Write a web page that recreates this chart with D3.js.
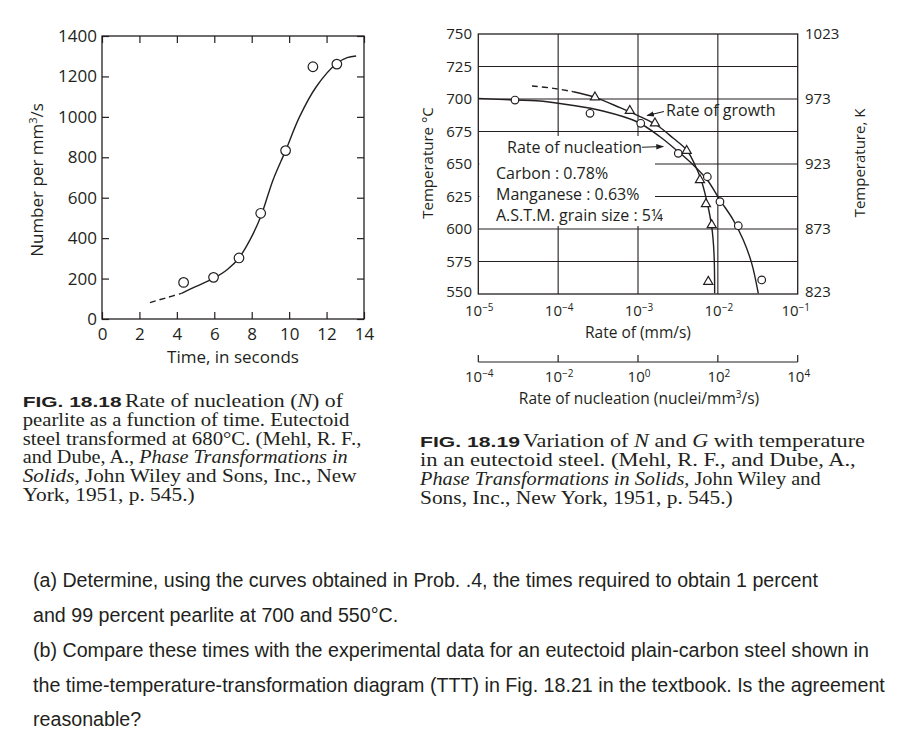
<!DOCTYPE html>
<html><head><meta charset="utf-8">
<script src="https://cdn.jsdelivr.net/npm/d3@7"></script>
<style>body{margin:0;background:#fff} svg{display:block}</style>
</head><body><svg id="c" width="920" height="747"></svg>
<script>
// ---------- Fig 18.18 data ----------
const nucTime  = [4.36, 5.96, 7.32, 8.48, 9.81, 11.27, 12.55];
const nucCount = [181, 206, 302, 523, 833, 1248, 1261];
const fitDashTime  = [2.56, 3.4, 4.25];
const fitDashCount = [81, 104, 127];
const fitTime  = [4.25, 5.0, 5.96, 6.7, 7.32, 7.9, 8.48, 9.14, 9.81, 10.56, 11.45, 12.55, 13.1, 13.58];
const fitCount = [127, 160, 201, 245, 302, 390, 506, 688, 833, 1001, 1149, 1265, 1293, 1301];
const timeTicks  = [0, 2, 4, 6, 8, 10, 12, 14];
const countTicks = [0, 200, 400, 600, 800, 1000, 1200, 1400];

// ---------- Fig 18.19 data ----------
const tempTicks   = [550, 575, 600, 625, 650, 675, 700, 725, 750];
const kelvinTicks = [823, 873, 923, 973, 1023];
const gridTemps   = [575, 600, 625, 650, 675, 700, 725];
const growthExps  = [-5, -4, -3, -2, -1];
const nucExps     = [-4, -2, 0, 2, 4];
// rate of growth (mm/s) — triangles
const growthPtRate = [2.89e-4, 7.9e-4, 1.63e-3, 4.07e-3, 5.97e-3, 7.10e-3, 8.38e-3, 7.59e-3];
const growthPtTemp = [701.3, 691, 681.3, 660.2, 637.7, 619.2, 603.1, 559.5];
const growthDashRate = [4.7e-5, 8.7e-5, 1.55e-4];
const growthDashTemp = [710, 708.2, 705.6];
const growthCurveRate = [1.55e-4, 2.89e-4, 5.96e-4, 1.06e-3, 1.71e-3, 2.77e-3, 4.07e-3, 5.18e-3, 6.28e-3, 7.38e-3, 8.38e-3, 8.95e-3, 9.12e-3];
const growthCurveTemp = [705.6, 701.3, 693.3, 686.4, 680, 669.8, 660.8, 649.2, 636.4, 619.8, 601.8, 581.3, 550.5];
// rate of nucleation (nuclei/mm^3/s) — circles
const nucPtRate = [8.3e-4, 0.0628, 1.17, 10.2, 54.5, 113, 325, 1256];
const nucPtTemp = [699.2, 689, 681.3, 658.2, 640.2, 621, 602.5, 560.8];
const nucCurveRate = [1e-4, 8.3e-4, 2.9e-3, 0.0198, 0.132, 0.944, 3.55, 10.2, 24.3, 54.5, 113, 244, 434, 705, 1030];
const nucCurveTemp = [700.5, 699.2, 698.7, 695.4, 690.8, 682.5, 671, 659.5, 649.2, 637.7, 622.3, 606.9, 591.5, 573.6, 550.5];

const INK = "#231f20";
const SANS = "'Open Sans', 'Noto Sans', sans-serif";
const SERIF = "'Liberation Serif', 'Times New Roman', serif";
const svg = d3.select("#c");

// ================= LEFT CHART =================
const L = svg.append("g");
const xL = d3.scaleLinear().domain([0, 14]).range([102, 364]);
const yL = d3.scaleLinear().domain([0, 1400]).range([319, 36]);

function styleAxis(g, size) {
  g.select(".domain").remove();
  g.selectAll("line").attr("stroke", INK).attr("stroke-width", 1.2);
  g.selectAll("text").attr("fill", INK).style("font-family", SANS).style("font-size", size + "px");
}
L.append("g").attr("transform", `translate(0,${yL(0)})`)
  .call(d3.axisBottom(xL).tickValues(timeTicks).tickFormat(d3.format("d")).tickSizeInner(-7).tickSizeOuter(0).tickPadding(9))
  .call(g => styleAxis(g, 17));
L.append("g").attr("transform", `translate(0,${yL(1400)})`)
  .call(d3.axisTop(xL).tickValues(timeTicks).tickFormat("").tickSizeInner(-7).tickSizeOuter(0))
  .call(g => styleAxis(g, 17));
L.append("g").attr("transform", `translate(${xL(0)},0)`)
  .call(d3.axisLeft(yL).tickValues(countTicks).tickFormat(d3.format("d")).tickSizeInner(-7).tickSizeOuter(0).tickPadding(5))
  .call(g => styleAxis(g, 17));
L.append("g").attr("transform", `translate(${xL(14)},0)`)
  .call(d3.axisRight(yL).tickValues(countTicks).tickFormat("").tickSizeInner(-7).tickSizeOuter(0))
  .call(g => styleAxis(g, 17));
L.append("rect").attr("x", xL(0)).attr("y", yL(1400))
  .attr("width", xL(14) - xL(0)).attr("height", yL(0) - yL(1400))
  .attr("fill", "none").attr("stroke", INK).attr("stroke-width", 1.3);

const lineL = d3.line().x(d => xL(d[0])).y(d => yL(d[1])).curve(d3.curveCatmullRom.alpha(0.5));
L.append("path").attr("d", lineL(fitDashTime.map((t, i) => [t, fitDashCount[i]])))
  .attr("fill", "none").attr("stroke", INK).attr("stroke-width", 1.4).attr("stroke-dasharray", "6,4");
L.append("path").attr("d", lineL(fitTime.map((t, i) => [t, fitCount[i]])))
  .attr("fill", "none").attr("stroke", INK).attr("stroke-width", 1.4);
L.selectAll("circle.pt").data(nucTime.map((t, i) => [t, nucCount[i]])).join("circle")
  .attr("cx", d => xL(d[0])).attr("cy", d => yL(d[1])).attr("r", 4.8)
  .attr("fill", "#fff").attr("stroke", INK).attr("stroke-width", 1.2);

L.append("text").attr("transform", "translate(43,180) rotate(-90)").attr("text-anchor", "middle")
  .style("font-family", SANS).style("font-size", "17px").attr("fill", INK)
  .call(t => { t.append("tspan").text("Number per mm"); t.append("tspan").attr("dy", -6).style("font-size", "11px").text("3"); t.append("tspan").attr("dy", 6).text("/s"); });
L.append("text").attr("x", 233).attr("y", 363).attr("text-anchor", "middle")
  .style("font-family", SANS).style("font-size", "17px").attr("fill", INK).text("Time, in seconds");

// ================= RIGHT CHART =================
const R = svg.append("g");
const yR = d3.scaleLinear().domain([550, 750]).range([294, 34]);
const xG = d3.scaleLog().domain([1e-5, 1e-1]).range([478.3, 797.7]);
const xN = d3.scaleLog().domain([1e-4, 1e4]).range([478.3, 797.7]);

R.selectAll("line.vg").data(growthExps.slice(1, 4)).join("line")
  .attr("x1", d => xG(Math.pow(10, d))).attr("x2", d => xG(Math.pow(10, d)))
  .attr("y1", yR(750)).attr("y2", yR(550)).attr("stroke", INK).attr("stroke-width", 1.1);
R.selectAll("line.hg").data(gridTemps).join("line")
  .attr("x1", xG(1e-5)).attr("x2", xG(1e-1)).attr("y1", d => yR(d)).attr("y2", d => yR(d))
  .attr("stroke", INK).attr("stroke-width", 1.1);
// white panel behind the legend text
R.append("rect").attr("x", xG(1e-5) + 1).attr("y", 136).attr("width", 655 - xG(1e-5) - 1).attr("height", 90).attr("fill", "#fff");
R.append("rect").attr("x", xG(1e-5)).attr("y", yR(750)).attr("width", xG(1e-1) - xG(1e-5)).attr("height", yR(550) - yR(750))
  .attr("fill", "none").attr("stroke", INK).attr("stroke-width", 1.3);

// tick labels (end labels nudged clear of the bottom log labels)
R.selectAll("text.tl").data(tempTicks).join("text")
  .attr("x", 472).attr("y", d => yR(d) - (d === 550 ? 2.5 : 0)).attr("dy", "0.36em").attr("text-anchor", "end")
  .style("font-family", SANS).style("font-size", "15px").attr("fill", INK).text(d => d);
R.selectAll("text.tk").data(kelvinTicks).join("text")
  .attr("x", 805).attr("y", d => yR(d - 273) - (d === 823 ? 2.5 : 0)).attr("dy", "0.36em").attr("text-anchor", "start")
  .style("font-family", SANS).style("font-size", "15px").attr("fill", INK).text(d => d);

function pow10(g, x, y, e) {
  const t = g.append("text").attr("x", x).attr("y", y).attr("text-anchor", "middle")
    .style("font-family", SANS).style("font-size", "15px").attr("fill", INK);
  t.append("tspan").text("10");
  t.append("tspan").attr("dy", -5.5).style("font-size", "10px").text(e < 0 ? "\u2212" + (-e) : String(e));
}
growthExps.forEach(e => pow10(R, xG(Math.pow(10, e)) + (e === -1 ? -2 : 1), 316, e));
nucExps.forEach(e => pow10(R, xN(Math.pow(10, e)) + 1, 382, e));

R.append("text").attr("x", 638).attr("y", 337.5).attr("text-anchor", "middle")
  .style("font-family", SANS).style("font-size", "15.5px").attr("fill", INK).text("Rate of (mm/s)");
R.append("text").attr("x", 639).attr("y", 403.5).attr("text-anchor", "middle")
  .style("font-family", SANS).style("font-size", "15.5px").attr("fill", INK)
  .call(t => { t.append("tspan").text("Rate of nucleation (nuclei/mm"); t.append("tspan").attr("dy", -6).style("font-size", "10px").text("3"); t.append("tspan").attr("dy", 6).text("/s)"); });

// nucleation scale bar
R.append("line").attr("x1", xN(1e-4)).attr("x2", xN(1e4)).attr("y1", 362).attr("y2", 362).attr("stroke", INK).attr("stroke-width", 1.2);
R.selectAll("line.nt").data(nucExps).join("line")
  .attr("x1", d => xN(Math.pow(10, d))).attr("x2", d => xN(Math.pow(10, d)))
  .attr("y1", 362).attr("y2", 355).attr("stroke", INK).attr("stroke-width", 1.2);

R.append("text").attr("transform", "translate(433,163) rotate(-90)").attr("text-anchor", "middle")
  .style("font-family", SANS).style("font-size", "15px").attr("fill", INK).text("Temperature \u00B0C");
R.append("text").attr("transform", "translate(865,163) rotate(-90)").attr("text-anchor", "middle")
  .style("font-family", SANS).style("font-size", "15px").attr("fill", INK).text("Temperature, K");

// curves
const lineG = d3.line().x(d => xG(d[0])).y(d => yR(d[1])).curve(d3.curveCatmullRom.alpha(0.5));
const lineN = d3.line().x(d => xN(d[0])).y(d => yR(d[1])).curve(d3.curveCatmullRom.alpha(0.5));
R.append("path").attr("d", lineG(growthDashRate.map((r, i) => [r, growthDashTemp[i]])))
  .attr("fill", "none").attr("stroke", INK).attr("stroke-width", 1.4).attr("stroke-dasharray", "6,4");
R.append("path").attr("d", lineG(growthCurveRate.map((r, i) => [r, growthCurveTemp[i]])))
  .attr("fill", "none").attr("stroke", INK).attr("stroke-width", 1.4);
R.append("path").attr("d", lineN(nucCurveRate.map((r, i) => [r, nucCurveTemp[i]])))
  .attr("fill", "none").attr("stroke", INK).attr("stroke-width", 1.4);
R.selectAll("circle.np").data(nucPtRate.map((r, i) => [r, nucPtTemp[i]])).join("circle")
  .attr("cx", d => xN(d[0])).attr("cy", d => yR(d[1])).attr("r", 3.8)
  .attr("fill", "#fff").attr("stroke", INK).attr("stroke-width", 1.2);
R.selectAll("path.gp").data(growthPtRate.map((r, i) => [r, growthPtTemp[i]])).join("path")
  .attr("d", d3.symbol(d3.symbolTriangle).size(36))
  .attr("transform", d => `translate(${xG(d[0])},${yR(d[1])})`)
  .attr("fill", "#fff").attr("stroke", INK).attr("stroke-width", 1.2);

// annotations
const defs = svg.append("defs");
defs.append("marker").attr("id", "ah").attr("viewBox", "0 0 10 10").attr("refX", 9).attr("refY", 5)
  .attr("markerWidth", 7).attr("markerHeight", 7).attr("orient", "auto-start-reverse")
  .append("path").attr("d", "M0,1.5 L10,5 L0,8.5 z").attr("fill", INK);
function ann(txt, x, y) {
  return R.append("text").attr("x", x).attr("y", y).style("font-family", SANS).style("font-size", "16px").attr("fill", INK).text(txt);
}
ann("Rate of growth", 666, 116);
R.append("line").attr("x1", 664).attr("y1", 111.5).attr("x2", xG(1.3e-3)).attr("y2", yR(687.3))
  .attr("stroke", INK).attr("stroke-width", 1.1).attr("marker-end", "url(#ah)");
ann("Rate of nucleation", 507, 153);
R.append("line").attr("x1", 642).attr("y1", 147.2).attr("x2", xG(2.07e-3)).attr("y2", yR(663.5))
  .attr("stroke", INK).attr("stroke-width", 1.1).attr("marker-end", "url(#ah)");
ann("Carbon : 0.78%", 496, 179);
ann("Manganese : 0.63%", 496, 200);
ann("A.S.T.M. grain size : 5\u00BC", 496, 220.5);

// ================= CAPTIONS =================
function fitLine(parent, x, y, target, build, family, size, weight) {
  const t = parent.append("text").attr("x", 0).attr("y", 0)
    .style("font-family", family).style("font-size", size + "px").style("font-weight", weight || "normal").attr("fill", INK);
  build(t);
  const w = t.node().getBBox().width;
  const k = target ? target / w : 1;
  t.attr("transform", `translate(${x},${y}) scale(${k},1)`);
  return k;
}
const seg = (arr) => t => arr.forEach(s => { const sp = t.append("tspan").text(s[0]); if (s[1]) sp.style("font-style", "italic"); });
const CAP = svg.append("g");
const FIGF = "'Liberation Sans', Arial, sans-serif";
fitLine(CAP, 22.7, 406.5, 99, t => t.text("FIG. 18.18"), FIGF, 14.5, "bold");
fitLine(CAP, 125, 406.5, 218, seg([["Rate of nucleation ("], ["N", 1], [") of"]]), SERIF, 18);
fitLine(CAP, 22.7, 425.5, 327, seg([["pearlite as a function of time. Eutectoid"]]), SERIF, 18);
fitLine(CAP, 22.7, 444.5, 339, seg([["steel transformed at 680\u00B0C. (Mehl, R. F.,"]]), SERIF, 18);
fitLine(CAP, 22.7, 463, 325, seg([["and Dube, A., "], ["Phase Transformations in", 1]]), SERIF, 18);
fitLine(CAP, 22.7, 482, 334, seg([["Solids,", 1], [" John Wiley and Sons, Inc., New"]]), SERIF, 18);
fitLine(CAP, 22.7, 500.5, 172, seg([["York, 1951, p. 545.)"]]), SERIF, 18);

fitLine(CAP, 420, 446.5, 100, t => t.text("FIG. 18.19"), FIGF, 14.5, "bold");
fitLine(CAP, 523, 446.5, 342, seg([["Variation of "], ["N", 1], [" and "], ["G", 1], [" with temperature"]]), SERIF, 18);
fitLine(CAP, 420, 465.5, 436, seg([["in an eutectoid steel. (Mehl, R. F., and Dube, A.,"]]), SERIF, 18);
fitLine(CAP, 420, 485, 402, seg([["Phase Transformations in Solids,", 1], [" John Wiley and"]]), SERIF, 18);
fitLine(CAP, 420, 504, 313, seg([["Sons, Inc., New York, 1951, p. 545.)"]]), SERIF, 18);

// ================= QUESTION TEXT =================
const Q = svg.append("g");
const QF = "'Liberation Sans', Arial, sans-serif";
const qLines = [
  ["(a) Determine, using the curves obtained in Prob. .4, the times required to obtain 1 percent", 786],
  ["and 99 percent pearlite at 700 and 550\u00B0C.", null],
  ["(b) Compare these times with the experimental data for an eutectoid plain-carbon steel shown in", 836],
  ["the time-temperature-transformation diagram (TTT) in Fig. 18.21 in the textbook. Is the agreement", 853],
  ["reasonable?", null]
];
const qY = [587, 622, 656.5, 691.5, 726];
let ks = [];
qLines.forEach((l, i) => { if (l[1]) ks.push(fitLine(Q, 33, qY[i], l[1], t => t.text(l[0]), QF, 20)); });
const kAvg = d3.mean(ks);
qLines.forEach((l, i) => {
  if (!l[1]) {
    const t = Q.append("text").style("font-family", QF).style("font-size", "20px").attr("fill", INK).text(l[0]);
    t.attr("transform", `translate(33,${qY[i]}) scale(${kAvg},1)`);
  }
});
</script></body></html>
